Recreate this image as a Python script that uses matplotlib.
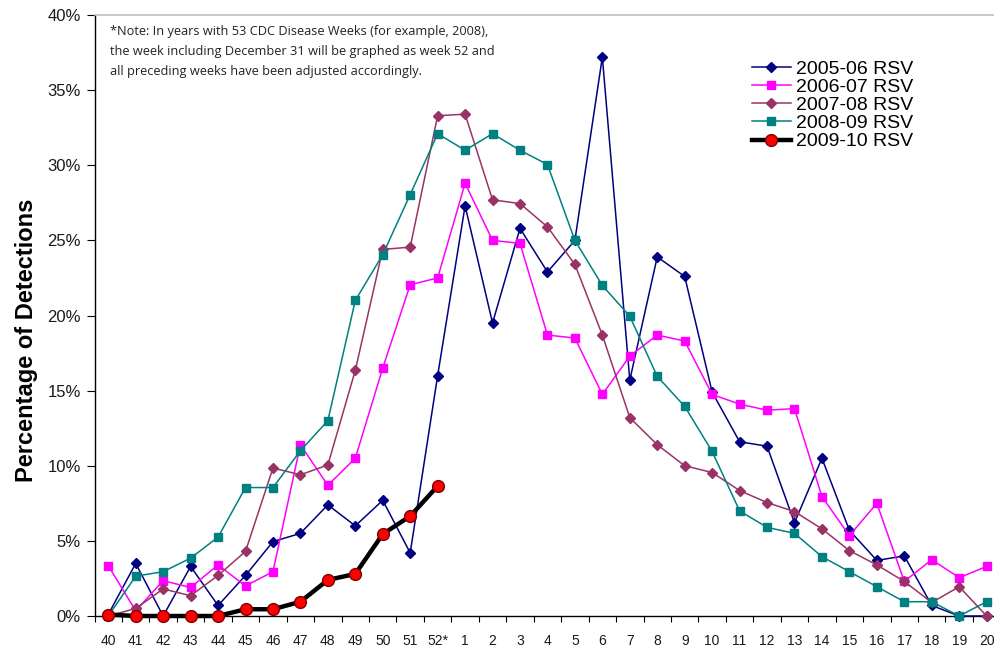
import numpy as np
import matplotlib
matplotlib.use("Agg")
from matplotlib import pyplot as plt
from matplotlib.ticker import FixedLocator

plt.rcParams['font.family'] = ['Liberation Sans', 'DejaVu Sans']

# -- Data ---------------------------------------------------------------------
weeks = ['40', '41', '42', '43', '44', '45', '46', '47', '48', '49', '50', '51', '52*',
         '1', '2', '3', '4', '5', '6', '7', '8', '9', '10', '11', '12', '13', '14',
         '15', '16', '17', '18', '19', '20']

rsv_2005_06 = [0.1, 3.5, 0.0, 3.3, 0.7, 2.7, 4.95, 5.5, 7.4, 6.0, 7.7, 4.2, 16.0,
               27.3, 19.5, 25.8, 22.9, 25.0, 37.2, 15.7, 23.9, 22.6, 14.9, 11.6, 11.3,
               6.2, 10.5, 5.7, 3.7, 4.0, 0.7, 0.0, 0.0]
rsv_2006_07 = [3.35, 0.35, 2.35, 1.9, 3.4, 2.0, 2.95, 11.4, 8.7, 10.5, 16.5, 22.05, 22.5,
               28.8, 25.0, 24.8, 18.7, 18.5, 14.75, 17.3, 18.7, 18.3, 14.75, 14.1, 13.7,
               13.8, 7.95, 5.35, 7.5, 2.3, 3.75, 2.55, 3.3]
rsv_2007_08 = [0.0, 0.5, 1.8, 1.35, 2.7, 4.3, 9.85, 9.4, 10.05, 16.35, 24.4, 24.55, 33.3,
               33.4, 27.7, 27.45, 25.9, 23.4, 18.7, 13.2, 11.4, 10.0, 9.55, 8.35, 7.55,
               6.95, 5.8, 4.35, 3.4, 2.3, 0.9, 1.95, 0.0]
rsv_2008_09 = [0.0, 2.65, 2.95, 3.85, 5.25, 8.55, 8.55, 11.0, 13.0, 21.0, 24.05, 28.05, 32.1,
               31.0, 32.1, 31.0, 30.05, 25.0, 22.0, 19.95, 15.95, 13.95, 10.95, 7.0, 5.9,
               5.5, 3.95, 2.95, 1.95, 0.95, 0.95, 0.0, 0.95]
rsv_2009_10 = [0.1, 0.0, 0.0, 0.0, 0.0, 0.45, 0.45, 0.95, 2.4, 2.8, 5.45, 6.65, 8.65]

note_lines = ['*Note: In years with 53 CDC Disease Weeks (for example, 2008),',
              'the week including December 31 will be graphed as week 52 and',
              'all preceding weeks have been adjusted accordingly.']

x = np.arange(len(weeks))

# -- Plot ---------------------------------------------------------------------
fig = plt.figure(figsize=(9.94, 6.5), dpi=100, facecolor='white')
ax = fig.add_axes([0.0951, 0.0523, 0.9113, 0.9246])

ax.plot(x, rsv_2005_06, color='#000080', lw=1.1, marker='D', ms=4.8,
        label='2005-06 RSV', clip_on=False, zorder=3)
ax.plot(x, rsv_2006_07, color='#FF00FF', lw=1.1, marker='s', ms=5.8,
        label='2006-07 RSV', clip_on=False, zorder=3)
ax.plot(x, rsv_2007_08, color='#993366', lw=1.1, marker='D', ms=4.8,
        label='2007-08 RSV', clip_on=False, zorder=3)
ax.plot(x, rsv_2008_09, color='#008080', lw=1.1, marker='s', ms=5.8,
        label='2008-09 RSV', clip_on=False, zorder=3)
ax.plot(x[:len(rsv_2009_10)], rsv_2009_10, color='black', lw=3.2, marker='o', ms=8.5,
        mfc='#FF0000', mec='#800000', mew=1.0, label='2009-10 RSV',
        clip_on=False, zorder=5)

ax.set_xlim(-0.5, len(weeks) - 0.5)
ax.set_ylim(0, 40)

# x axis: labels at categories, tick marks between them
ax.set_xticks(x)
ax.set_xticklabels(weeks, fontsize=10, color='#1a1a1a')
ax.tick_params(axis='x', which='major', length=0, pad=13)
ax.xaxis.set_minor_locator(FixedLocator(np.arange(-0.5, len(weeks), 1)))
ax.tick_params(axis='x', which='minor', length=4, width=0.8, direction='out')

yt = np.arange(0, 41, 5)
ax.set_yticks(yt)
ax.set_yticklabels([f'{v}%' for v in yt], fontsize=12, color='#1a1a1a')
ax.tick_params(axis='y', length=6, width=0.8, pad=4, direction='out')

ax.spines['right'].set_visible(False)
ax.spines['top'].set_color('#c0c0c0')
ax.spines['top'].set_linewidth(1.2)
ax.spines['left'].set_linewidth(1.0)
ax.spines['bottom'].set_linewidth(1.0)

fig.text(27 / 994, 1 - 340 / 650, 'Percentage of Detections', rotation=90,
         ha='center', va='center', fontsize=17, fontweight='bold')

for i, line in enumerate(note_lines):
    fig.text(110 / 994, 1 - (31 + 20.5 * i) / 650, line, ha='left', va='center',
             fontsize=9.2, family=['Open Sans', 'DejaVu Sans'], color='#222222')

ax.legend(loc='upper left', bbox_to_anchor=(752 / 994, 1 - 60 / 650),
          bbox_transform=fig.transFigure, frameon=False, fontsize=14,
          handlelength=2.0, handletextpad=0.25, labelspacing=0.03,
          borderpad=0, borderaxespad=0)

fig.savefig('out.png', dpi=100, facecolor='white')
